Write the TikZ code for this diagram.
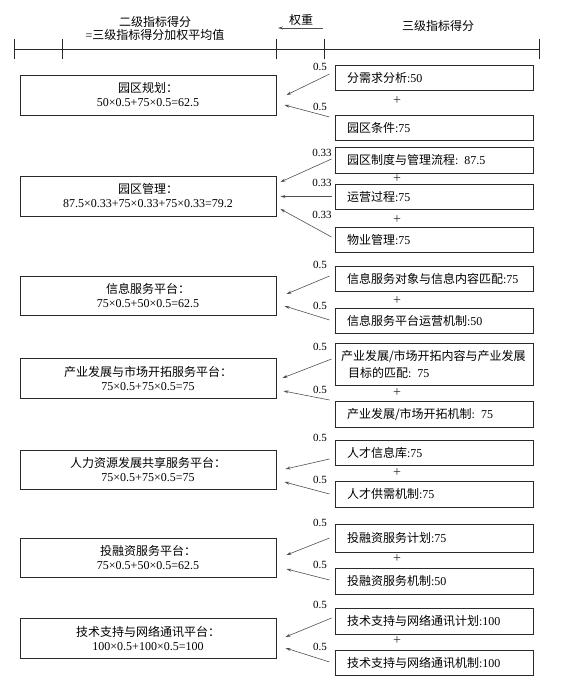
\documentclass[tikz,border=0pt]{standalone}
\usepackage{fontspec}
\setmainfont{Liberation Serif}
\newfontfamily\zhfont{Noto Sans CJK SC}
\newcommand{\zh}[1]{{\zhfont #1}}
\usepackage{tikz}
\usetikzlibrary{arrows.meta,calc}
\definecolor{ink}{HTML}{2A2A2A}
\definecolor{wire}{HTML}{505050}

\begin{document}
\begin{tikzpicture}[x=1pt,y=-1pt,font=\fontsize{12}{14}\selectfont,>={Stealth[length=5pt,width=3pt]},
  lbox/.style={draw=ink,line width=0.95pt,minimum width=256pt,align=center,inner sep=0pt},
  rbox/.style={draw=ink,line width=0.95pt,minimum width=198pt,text width=174pt,inner xsep=12pt,inner ysep=0pt,align=left},
  wt/.style={font=\fontsize{11}{12}\selectfont,inner sep=0pt},
  plussign/.style={font=\fontsize{14}{14}\selectfont,inner sep=0pt,text=ink},
  wline/.style={->,wire,line width=0.6pt}]
\useasboundingbox (0,0) rectangle (564,687);
% header ruler
\draw[ink,line width=0.95pt] (14,49) -- (539,49);
\foreach \x in {14,62,276,324,539} {\draw[ink,line width=0.95pt] (\x,39) -- (\x,59);}
\node[align=center,font=\fontsize{12}{13}\selectfont] (hsec) at (155,28) {\zh{二级指标得分}\\=\zh{三级指标得分加权平均值}};
\node (hwt) at (301,20) {\zh{权重}};
\coordinate (wa) at (323,28);
\coordinate (wb) at (278,28);
\draw[wline] (wa) -- (wb);
\node (hthird) at (438,26) {\zh{三级指标得分}};
% park planning
\node[lbox,minimum height=40pt] (l1) at (148,95) {\zh{园区规划：}\\50×0.5+75×0.5=62.5};
\node[rbox,minimum height=25pt] (r11) at (434,77.5) {\zh{分需求分析}:50};
\node[rbox,minimum height=25pt] (r12) at (434,127.5) {\zh{园区条件}:75};
\node[wt] (w11) at (320,67) {0.5};
\node[wt] (w12) at (320,107) {0.5};
\node[plussign] (p11) at (397,101) {+};
\draw[wline] ($(r11.west)+(-5,-3.5)$) -- ($(l1.east)+(10,0)$);
\draw[wline] ($(r12.west)+(-5,-10.5)$) -- ($(l1.east)+(8,10)$);
% park management
\node[lbox,minimum height=40pt] (l2) at (148,196) {\zh{园区管理：}\\87.5×0.33+75×0.33+75×0.33=79.2};
\node[rbox,minimum height=26pt] (r21) at (434,160) {\zh{园区制度与管理流程}: 87.5};
\node[rbox,minimum height=25pt] (r22) at (434,196.5) {\zh{运营过程}:75};
\node[rbox,minimum height=25pt] (r23) at (434,239.5) {\zh{物业管理}:75};
\node[wt] (w21) at (322,153) {0.33};
\node[wt] (w22) at (322,183) {0.33};
\node[wt] (w23) at (322,215) {0.33};
\node[plussign] (p21) at (397,179) {+};
\node[plussign] (p22) at (397,220) {+};
\draw[wline] ($(r21.west)+(-3,-1)$) -- ($(l2.east)+(4,-14)$);
\draw[wline] ($(r22.west)+(-3,0)$) -- ($(r22.west -| l2.east)+(4,0)$);
\draw[wline] ($(r23.west)+(-3,-2.5)$) -- ($(l2.east)+(4,13)$);
% information service platform
\node[lbox,minimum height=39pt] (l3) at (148,295.5) {\zh{信息服务平台：}\\75×0.5+50×0.5=62.5};
\node[rbox,minimum height=25pt] (r31) at (434,278.5) {\zh{信息服务对象与信息内容匹配}:75};
\node[rbox,minimum height=25pt] (r32) at (434,320.5) {\zh{信息服务平台运营机制}:50};
\node[wt] (w31) at (320,265) {0.5};
\node[wt] (w32) at (320,306) {0.5};
\node[plussign] (p31) at (397,301) {+};
\draw[wline] ($(r31.west)+(-5,-2.5)$) -- ($(l3.east)+(10,-1.5)$);
\draw[wline] ($(r32.west)+(-5,-0.5)$) -- ($(l3.east)+(8,10.5)$);
% industry development and market expansion
\node[lbox,minimum height=40pt] (l4) at (148,378) {\zh{产业发展与市场开拓服务平台：}\\75×0.5+75×0.5=75};
\node[rbox,minimum height=42pt,text width=186pt,inner xsep=6pt,font=\fontsize{12}{17}\selectfont] (r41) at (434,364) {\zh{产业发展/市场开拓内容与产业发展}\\\hspace*{7pt}\zh{目标的匹配}: 75};
\node[rbox,minimum height=26pt] (r42) at (434,414) {\zh{产业发展/市场开拓机制}: 75};
\node[wt] (w41) at (320,347) {0.5};
\node[wt] (w42) at (320,390) {0.5};
\node[plussign] (p41) at (397,393) {+};
\draw[wline] ($(r41.west)+(-3,-5)$) -- ($(l4.east)+(6,0)$);
\draw[wline] ($(r42.west)+(-5,-14)$) -- ($(l4.east)+(7,13)$);
% human resources
\node[lbox,minimum height=39pt] (l5) at (148,469.5) {\zh{人力资源发展共享服务平台：}\\75×0.5+75×0.5=75};
\node[rbox,minimum height=25pt] (r51) at (434,452.5) {\zh{人才信息库}:75};
\node[rbox,minimum height=26pt] (r52) at (434,494) {\zh{人才供需机制}:75};
\node[wt] (w51) at (320,438) {0.5};
\node[wt] (w52) at (320,480) {0.5};
\node[plussign] (p51) at (397,473) {+};
\draw[wline] ($(r51.west)+(-5,6.5)$) -- ($(l5.east)+(9,-0.5)$);
\draw[wline] ($(r52.west)+(-5,0)$) -- ($(l5.east)+(8,12.5)$);
% investment and financing
\node[lbox,minimum height=39pt] (l6) at (148,557.5) {\zh{投融资服务平台：}\\75×0.5+50×0.5=62.5};
\node[rbox,minimum height=28pt] (r61) at (434,538) {\zh{投融资服务计划}:75};
\node[rbox,minimum height=26pt] (r62) at (434,581) {\zh{投融资服务机制}:50};
\node[wt] (w61) at (320,523) {0.5};
\node[wt] (w62) at (320,565) {0.5};
\node[plussign] (p61) at (397,559) {+};
\draw[wline] ($(r61.west)+(-5,0)$) -- ($(l6.east)+(10,-2.5)$);
\draw[wline] ($(r62.west)+(-5,-1)$) -- ($(l6.east)+(10,11.5)$);
% technical support and network communication
\node[lbox,minimum height=40pt] (l7) at (148,638) {\zh{技术支持与网络通讯平台：}\\100×0.5+100×0.5=100};
\node[rbox,minimum height=26pt] (r71) at (434,621) {\zh{技术支持与网络通讯计划}:100};
\node[rbox,minimum height=25pt] (r72) at (434,662.5) {\zh{技术支持与网络通讯机制}:100};
\node[wt] (w71) at (320,605) {0.5};
\node[wt] (w72) at (320,647) {0.5};
\node[plussign] (p71) at (397,641) {+};
\draw[wline] ($(r71.west)+(-3,-3)$) -- ($(l7.east)+(9,-1)$);
\draw[wline] ($(r72.west)+(-5,-0.5)$) -- ($(l7.east)+(9,10)$);
\end{tikzpicture}
\end{document}
